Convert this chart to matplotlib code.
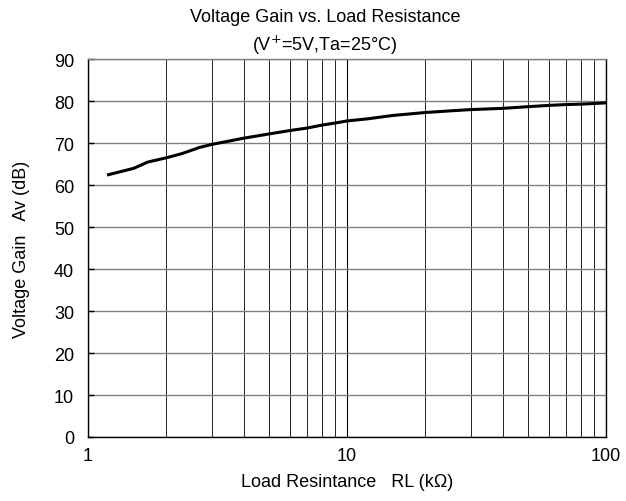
import matplotlib
matplotlib.use("Agg")
import matplotlib.pyplot as plt
from matplotlib.ticker import FixedLocator, NullFormatter

rl = [1.2, 1.5, 1.7, 2.0, 2.3, 2.7, 3.0, 3.5, 4.0, 5.0, 6.0, 7.0, 8.0, 9.0, 10.0,
      12.0, 15.0, 20.0, 25.0, 30.0, 40.0, 50.0, 60.0, 70.0, 80.0, 100.0]
gain = [62.5, 64.0, 65.5, 66.5, 67.5, 69.0, 69.7, 70.5, 71.2, 72.2, 73.0, 73.6, 74.3, 74.8, 75.3,
        75.8, 76.6, 77.3, 77.7, 78.0, 78.3, 78.7, 79.0, 79.2, 79.3, 79.6]
xticks = [1, 10, 100]
xtick_labels = ["1", "10", "100"]
yticks = list(range(0, 91, 10))

plt.rcParams['font.family'] = ['Liberation Sans', 'DejaVu Sans']
fig = plt.figure(figsize=(6.26, 5.02), dpi=100)
ax = fig.add_axes([0.1406, 0.1275, 0.8274, 0.7525])

ax.set_xscale('log')
ax.set_xlim(1, 100)
ax.set_ylim(0, 90)

minor = [m * d for d in (1, 10) for m in range(2, 10)]
ax.xaxis.set_major_locator(FixedLocator(xticks))
ax.xaxis.set_minor_locator(FixedLocator(minor))
ax.xaxis.set_minor_formatter(NullFormatter())
ax.set_xticklabels(xtick_labels)
ax.set_yticks(yticks)

ax.grid(True, which='major', axis='x', color='black', linewidth=0.8)
ax.grid(True, which='minor', axis='x', color='black', linewidth=0.6)
ax.grid(True, which='major', axis='y', color='#808080', linewidth=1.0)

ax.tick_params(axis='both', which='both', direction='in', length=0, labelsize=13, colors='black')
ax.tick_params(axis='y', length=4, width=1.0, pad=10)
ax.tick_params(axis='x', pad=7)

for s in ('left', 'bottom', 'right'):
    ax.spines[s].set_color('black')
    ax.spines[s].set_linewidth(1.0)
ax.spines['top'].set_color('#808080')
ax.spines['top'].set_linewidth(1.0)

ax.plot(rl, gain, color='black', linewidth=2.2, zorder=5)

ax.set_xlabel('Load Resintance   RL (k\u03a9)', fontsize=13, labelpad=7)
ax.set_ylabel('Voltage Gain   Av (dB)', fontsize=13, labelpad=17)

fig.text(325 / 626, 1 - 18 / 502, 'Voltage Gain vs. Load Resistance', ha='center', va='center', fontsize=13)
fig.text(325 / 626, 1 - 45 / 502, '(V$^{+}$=5V,Ta=25\u00b0C)', ha='center', va='center', fontsize=13)

fig.savefig('out.png', dpi=100)
